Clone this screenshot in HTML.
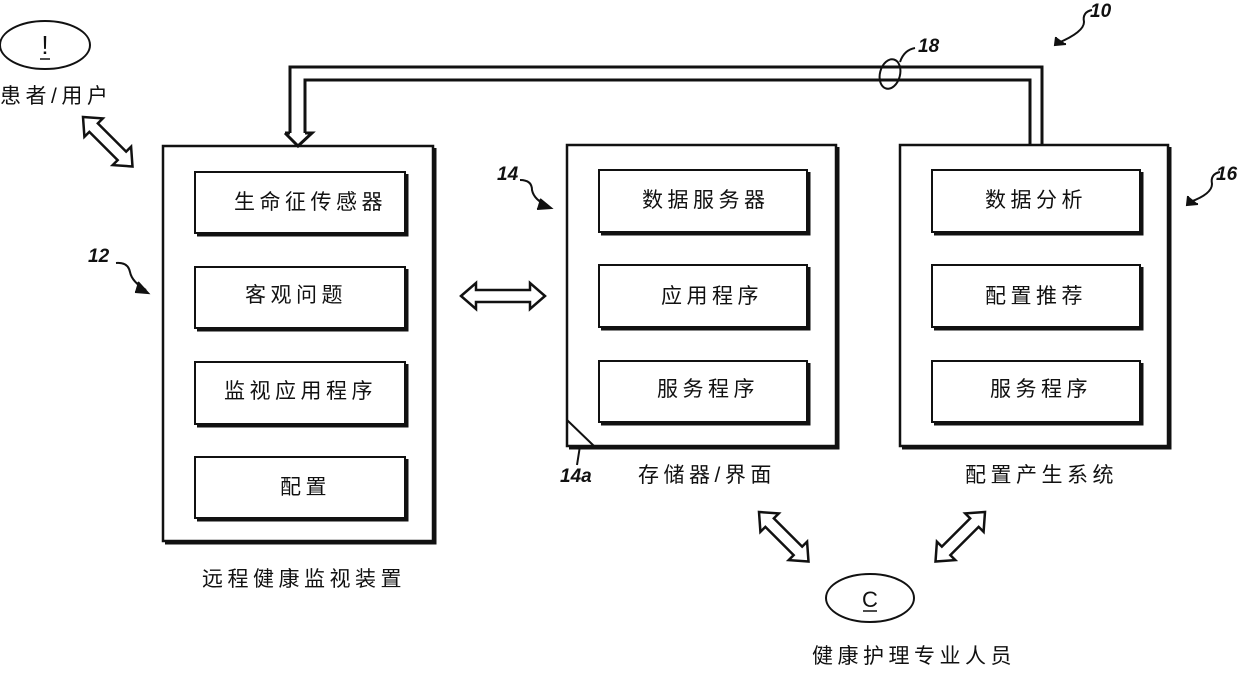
<!DOCTYPE html>
<html><head><meta charset="utf-8"><style>
html,body{margin:0;padding:0;background:#fff}
svg text{font-family:"Liberation Sans","Noto Sans CJK SC",sans-serif;fill:#111}
.c{letter-spacing:4.5px}
.n{font-family:"Liberation Sans",sans-serif;font-style:italic;font-weight:bold}
</style></head><body>
<svg width="1240" height="668" viewBox="0 0 1240 668" xmlns="http://www.w3.org/2000/svg">
<g fill="none" stroke="#111" stroke-width="2">
<ellipse cx="45" cy="45" rx="45" ry="24"/>
<ellipse cx="870" cy="598" rx="44" ry="24"/>
<path d="M290 133 V67 H1042 V145" stroke-width="3"/>
<path d="M305 133 V80 H1030 V145" stroke-width="3"/>
<path d="M285 133 H290 M305 133 H312 L298 146 L285 133" stroke-width="3"/>
<ellipse cx="890" cy="74" rx="10" ry="15" transform="rotate(15 890 74)"/>
<path d="M900 62 Q904 50 915 48"/>
<rect x="163" y="146" width="270" height="395" stroke-width="2.5"/>
<path d="M435 148 V543 H165" stroke-width="3"/>
<rect x="567" y="145" width="269" height="301" stroke-width="2.5"/>
<path d="M838 147 V448 H569" stroke-width="3"/>
<path d="M567 420 L594 446"/>
<rect x="900" y="145" width="268" height="301" stroke-width="2.5"/>
<path d="M1170 147 V448 H902" stroke-width="3"/>
<g stroke-width="2">
<rect x="195" y="172" width="210" height="61"/><path d="M407 174 V235 H197" stroke-width="3"/>
<rect x="195" y="267" width="210" height="61"/><path d="M407 269 V330 H197" stroke-width="3"/>
<rect x="195" y="362" width="210" height="62"/><path d="M407 364 V426 H197" stroke-width="3"/>
<rect x="195" y="457" width="210" height="61"/><path d="M407 459 V520 H197" stroke-width="3"/>
<rect x="599" y="170" width="208" height="62"/><path d="M809 172 V234 H601" stroke-width="3"/>
<rect x="599" y="265" width="208" height="62"/><path d="M809 267 V329 H601" stroke-width="3"/>
<rect x="599" y="361" width="208" height="61"/><path d="M809 363 V424 H601" stroke-width="3"/>
<rect x="932" y="170" width="208" height="62"/><path d="M1142 172 V234 H934" stroke-width="3"/>
<rect x="932" y="265" width="208" height="62"/><path d="M1142 267 V329 H934" stroke-width="3"/>
<rect x="932" y="361" width="208" height="61"/><path d="M1142 363 V424 H934" stroke-width="3"/>
</g>
<path d="M461 296 L476 283 V290 H530 V283 L545 296 L530 309 V302 H476 V309 Z" stroke-width="2.5"/>
<g stroke-width="2.5">
<path d="M0 0 L15 -13 V-6 H55 V-13 L70 0 L55 13 V6 H15 V13 Z" transform="translate(83 117) rotate(45)"/>
<path d="M0 0 L15 -13 V-6 H55 V-13 L70 0 L55 13 V6 H15 V13 Z" transform="translate(759 512) rotate(45)"/>
<path d="M0 0 L15 -13 V-6 H55 V-13 L70 0 L55 13 V6 H15 V13 Z" transform="translate(985 512) rotate(135)"/>
</g>
<path d="M116 263 Q128 262 130 272 Q132 282 146 290" stroke-width="2"/>
<path d="M138 282 L148 293 L135 292" fill="#111"/>
<path d="M520 180 Q532 180 532 190 Q534 200 548 206" stroke-width="2"/>
<path d="M540 199 L551 208 L537 209" fill="#111"/>
<path d="M1092 10 Q1082 12 1084 22 Q1084 32 1058 43" stroke-width="2"/>
<path d="M1056 37 L1055 45 L1066 44" fill="#111"/>
<path d="M1220 172 Q1210 174 1212 184 Q1212 194 1190 202" stroke-width="2"/>
<path d="M1188 196 L1187 205 L1198 204" fill="#111"/>
<path d="M580 446 L577 465" stroke-width="2"/>
</g>
<text x="45" y="54" font-size="26" text-anchor="middle" style="font-family:'Liberation Sans',sans-serif">!</text>
<line x1="40" y1="59" x2="50" y2="59" stroke="#111" stroke-width="1.5"/>
<text x="870" y="607" font-size="22" text-anchor="middle" style="font-family:'Liberation Sans',sans-serif">C</text>
<line x1="863" y1="611" x2="877" y2="611" stroke="#111" stroke-width="1.5"/>
<g font-size="21" class="c">
<text x="0" y="103" class="c">患者/用户</text>
<text x="234" y="209" class="c">生命征传感器</text>
<text x="245" y="302" class="c">客观问题</text>
<text x="224" y="398" class="c">监视应用程序</text>
<text x="280" y="494" class="c">配置</text>
<text x="642" y="207" class="c">数据服务器</text>
<text x="661" y="303" class="c">应用程序</text>
<text x="657" y="396" class="c">服务程序</text>
<text x="985" y="207" class="c">数据分析</text>
<text x="985" y="303" class="c">配置推荐</text>
<text x="990" y="396" class="c">服务程序</text>
<text x="638" y="482" class="c">存储器/界面</text>
<text x="965" y="482" class="c">配置产生系统</text>
<text x="202" y="586" class="c">远程健康监视装置</text>
<text x="812" y="663" class="c">健康护理专业人员</text>
</g>
<g font-size="19">
<text x="88" y="262" class="n">12</text>
<text x="497" y="180" class="n">14</text>
<text x="918" y="52" class="n">18</text>
<text x="1090" y="17" class="n">10</text>
<text x="1216" y="180" class="n">16</text>
<text x="560" y="482" class="n">14a</text>
</g>
</svg>
</body></html>
